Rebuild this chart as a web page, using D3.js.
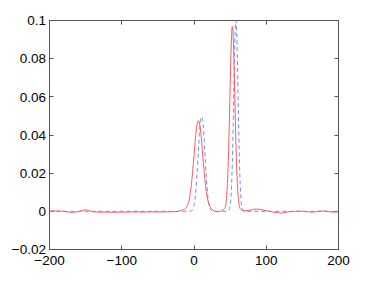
<!DOCTYPE html>
<html>
<head>
<meta charset="utf-8">
<script src="https://cdn.jsdelivr.net/npm/d3@7"></script>
<style>
  body { margin: 0; background: #fff; }
  text { font-family: "Liberation Sans", Arial, sans-serif; }
</style>
</head>
<body>
<div id="chart"></div>
<script>
// values
const xTicks = [-200, -100, 0, 100, 200];
const yTicks = [-0.02, 0, 0.02, 0.04, 0.06, 0.08, 0.1];

const redX = [-200, -190, -180, -171, -162, -155, -150, -145, -140, -130, -120, -110, -100, -90, -80, -70, -60, -50, -40, -30,
  -22, -18, -14, -12, -10, -8, -6, -4, -2, 0, 2, 4, 6, 8, 10, 12, 14, 16, 18, 20, 22, 24, 26, 28,
  30, 32, 34, 36, 38, 40, 42, 44, 45, 46, 47, 48, 49, 50, 51, 52, 53, 54, 55, 56, 57, 58, 59, 60, 61, 62, 63,
  65, 68, 72, 78, 86, 94, 102, 110, 116, 121, 126, 132, 140, 148, 156, 164, 172, 180, 188, 194, 200];
const redY = [0.0002, 0.0002, 0.0000, -0.0005, -0.0003, 0.0003, 0.0008, 0.0004, -0.0002, -0.0004, -0.0004, -0.0005, -0.0004, -0.0004, -0.0003, -0.0004, -0.0003, -0.0003, -0.0003, -0.0002,
  0.0000, 0.0004, 0.0009, 0.0014, 0.0024, 0.0042, 0.0075, 0.0128, 0.0202, 0.0292, 0.0383, 0.0451, 0.0475, 0.0454, 0.0390, 0.0300, 0.0210, 0.0135, 0.0080, 0.0046, 0.0026, 0.0014, 0.0007, 0.0002,
  0.0000, -0.0002, -0.0002, 0.0000, 0.0003, 0.0007, 0.0014, 0.0033, 0.0068, 0.0128, 0.0212, 0.0330, 0.0480, 0.0650, 0.0810, 0.0920, 0.0970, 0.0935, 0.0830, 0.0680, 0.0515, 0.0365, 0.0235, 0.0145, 0.0082, 0.0045, 0.0023,
  0.0009, 0.0004, 0.0003, 0.0006, 0.0012, 0.0008, 0.0002, -0.0004, -0.0007, -0.0009, -0.0006, -0.0002, 0.0000, 0.0001, -0.0002, -0.0004, 0.0000, 0.0002, -0.0002, -0.0004, -0.0003];

const blueX = [-200, -6, -4, -2, 0, 2, 4, 6, 8, 10, 11, 13, 15, 17, 19, 21, 23, 25, 27,
  46, 48, 49, 50, 51, 52, 53, 54, 55, 56, 57, 58, 59, 60, 61, 62, 63, 64, 65, 66, 67, 68, 70, 200];
const blueY = [0, 0, 0.0002, 0.0009, 0.0030, 0.0085, 0.0180, 0.0310, 0.0440, 0.0495, 0.0493, 0.0440, 0.0310, 0.0180, 0.0085, 0.0030, 0.0009, 0.0002, 0,
  0, 0.0004, 0.0011, 0.0028, 0.0066, 0.0135, 0.0250, 0.0410, 0.0610, 0.0800, 0.0950, 0.1000, 0.0950, 0.0800, 0.0610, 0.0410, 0.0250, 0.0135, 0.0066, 0.0028, 0.0011, 0.0004, 0, 0];

const width = 374, height = 281;
const plotLeft = 49.5, plotRight = 338.5, plotTop = 20.5, plotBottom = 249.5;
const axisColor = '#555';

const svg = d3.select('#chart').append('svg')
  .attr('width', width)
  .attr('height', height);

const xScale = d3.scaleLinear().domain([-200, 200]).range([plotLeft, plotRight]);
const yScale = d3.scaleLinear().domain([-0.02, 0.1]).range([plotBottom, plotTop]);

// plot box
svg.append('rect')
  .attr('x', plotLeft).attr('y', plotTop)
  .attr('width', plotRight - plotLeft).attr('height', plotBottom - plotTop)
  .attr('fill', 'none')
  .attr('stroke', axisColor)
  .attr('stroke-width', 1);

const tickLen = 4;

// inward ticks on all four sides
const tickG = svg.append('g').attr('stroke', axisColor).attr('stroke-width', 1);
xTicks.forEach(t => {
  const x = Math.round(xScale(t) - 0.5) + 0.5;
  tickG.append('line').attr('x1', x).attr('x2', x).attr('y1', plotBottom).attr('y2', plotBottom - tickLen);
  tickG.append('line').attr('x1', x).attr('x2', x).attr('y1', plotTop).attr('y2', plotTop + tickLen);
});
yTicks.forEach(t => {
  const y = Math.round(yScale(t) - 0.5) + 0.5;
  tickG.append('line').attr('x1', plotLeft).attr('x2', plotLeft + tickLen).attr('y1', y).attr('y2', y);
  tickG.append('line').attr('x1', plotRight).attr('x2', plotRight - tickLen).attr('y1', y).attr('y2', y);
});

// tick labels
svg.append('g').selectAll('text')
  .data(xTicks)
  .join('text')
  .attr('x', d => xScale(d))
  .attr('y', 265)
  .attr('text-anchor', 'middle')
  .attr('font-size', '13.5px')
  .attr('fill', '#000')
  .text(d => d < 0 ? '\u2212' + Math.abs(d) : d);

svg.append('g').selectAll('text')
  .data(yTicks)
  .join('text')
  .attr('x', 46)
  .attr('y', d => yScale(d))
  .attr('dy', '0.35em')
  .attr('text-anchor', 'end')
  .attr('font-size', '13.5px')
  .attr('fill', '#000')
  .text(d => {
    const s = d3.format('~g')(d);
    return s.replace('-', '\u2212');
  });

const line = d3.line()
  .x(d => xScale(d[0]))
  .y(d => yScale(d[1]))
  .curve(d3.curveMonotoneX);

svg.append('path')
  .datum(d3.zip(blueX, blueY))
  .attr('d', line)
  .attr('fill', 'none')
  .attr('stroke', '#6f8cff')
  .attr('stroke-width', 1)
  .attr('stroke-dasharray', '4,3');

svg.append('path')
  .datum(d3.zip(redX, redY))
  .attr('d', line)
  .attr('fill', 'none')
  .attr('stroke', '#ff5a5a')
  .attr('stroke-width', 1);
</script>
</body>
</html>
